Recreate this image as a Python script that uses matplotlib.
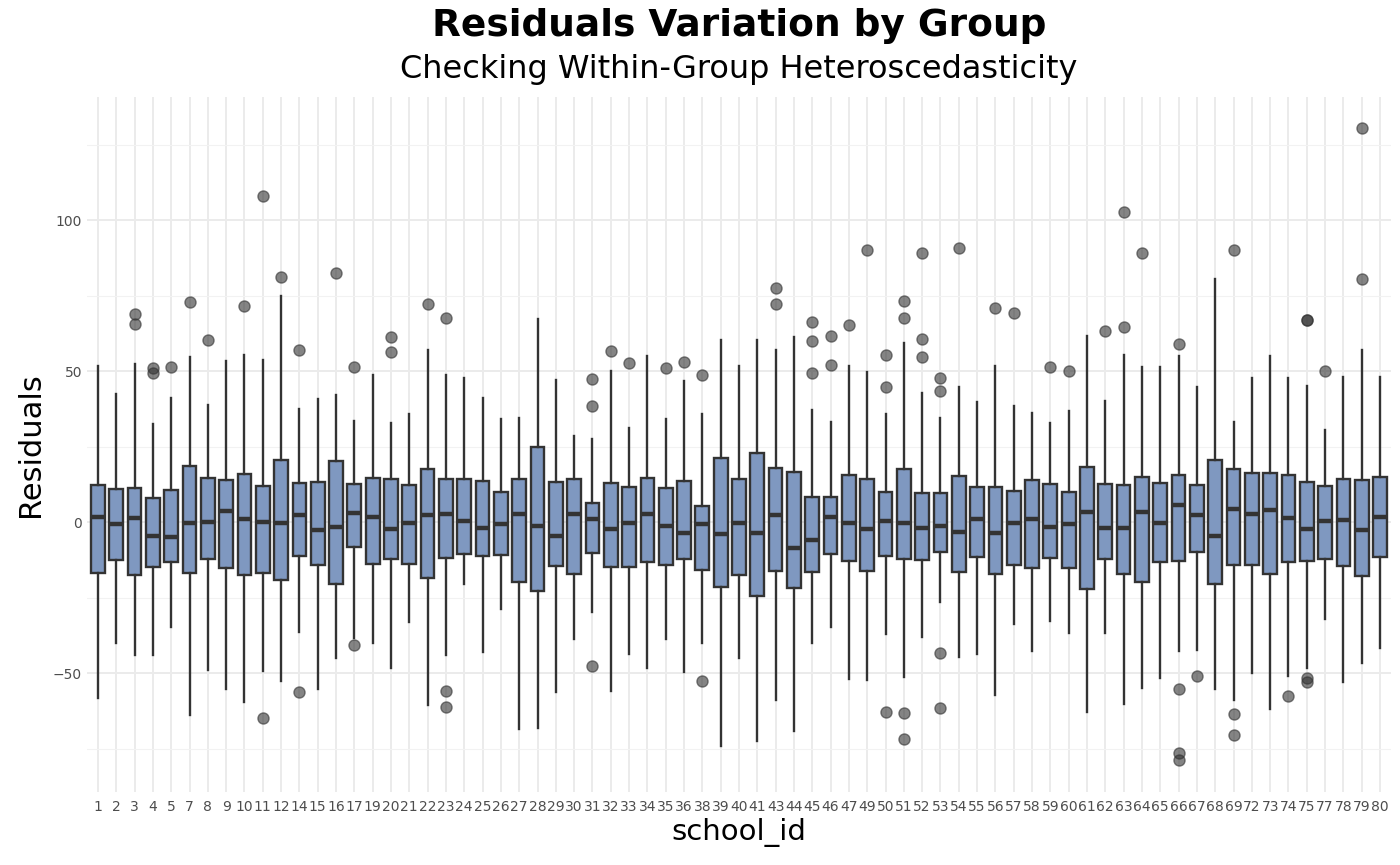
import numpy as np
import matplotlib
matplotlib.use("Agg")
import matplotlib.pyplot as plt
from matplotlib.ticker import MultipleLocator

# DATOS

school_ids = [1, 2, 3, 4, 5, 7, 8, 9, 10, 11, 12, 14, 15, 16, 17, 19, 20, 21, 22, 23,
              24, 25, 26, 27, 28, 29, 30, 31, 32, 33, 34, 35, 36, 38, 39, 40, 41, 43, 44, 45,
              46, 47, 49, 50, 51, 52, 53, 54, 55, 56, 57, 58, 59, 60, 61, 62, 63, 64, 65, 66,
              67, 68, 69, 72, 73, 74, 75, 77, 78, 79, 80]

whislo = [-58.3, -39.9, -44.0, -44.2, -34.6, -63.8, -48.9, -55.3, -59.5, -49.3, -52.8, -36.4,
          -55.3, -44.9, -38.4, -40.2, -48.4, -33.1, -60.7, -44.0, -20.5, -43.1, -28.8, -68.5,
          -68.3, -56.3, -38.9, -29.8, -55.8, -43.7, -48.3, -38.6, -49.8, -40.2, -74.1, -44.9,
          -72.6, -58.9, -69.1, -40.2, -34.8, -52.1, -52.4, -37.2, -51.2, -38.1, -26.6, -44.6,
          -43.6, -57.4, -33.9, -42.7, -32.9, -36.6, -63.0, -36.7, -60.4, -54.8, -51.5, -42.7,
          -42.5, -55.4, -59.1, -50.1, -61.9, -50.9, -48.4, -32.0, -53.1, -46.8, -41.7]

q1 = [-16.9, -12.6, -17.6, -15.0, -13.1, -16.9, -12.3, -15.3, -17.5, -17.0, -19.1, -11.2,
      -14.3, -20.5, -8.3, -14.0, -12.1, -13.8, -18.4, -11.8, -10.5, -11.2, -10.9, -19.9,
      -22.9, -14.6, -17.2, -10.3, -15.0, -14.9, -13.1, -14.1, -12.1, -15.9, -21.4, -17.5,
      -24.4, -16.1, -21.9, -16.5, -10.5, -12.9, -16.1, -11.2, -12.3, -12.6, -10.0, -16.7,
      -11.5, -17.2, -14.3, -15.2, -11.8, -15.2, -22.2, -12.3, -17.3, -19.7, -13.4, -12.8,
      -9.9, -20.5, -14.3, -14.3, -17.2, -13.1, -12.8, -12.1, -14.6, -17.8, -11.7]

medianas = [1.5, -0.5, 1.2, -4.6, -5.0, -0.2, 0.0, 3.6, 0.9, 0.0, -0.3, 2.3,
            -2.7, -1.7, 2.9, 1.8, -2.4, -0.2, 2.3, 2.6, 0.5, -2.0, -0.5, 2.7,
            -1.2, -4.6, 2.7, 0.9, -2.4, -0.2, 2.7, -1.2, -3.6, -0.6, -4.1, -0.3,
            -3.6, 2.3, -8.7, -5.9, 1.5, -0.2, -2.3, 0.3, -0.2, -2.1, -1.4, -3.2,
            0.9, -3.8, -0.3, 1.1, -1.7, -0.5, 3.2, -2.0, -2.1, 3.3, -0.3, 5.5,
            2.4, -4.7, 4.3, 2.7, 3.9, 1.2, -2.3, 0.3, 0.8, -2.7, 1.5]

q3 = [12.4, 10.8, 11.4, 8.0, 10.5, 18.5, 14.7, 13.8, 15.9, 11.8, 20.5, 12.9,
      13.2, 20.2, 12.6, 14.6, 14.1, 12.3, 17.5, 14.3, 14.1, 13.7, 9.9, 14.4,
      24.7, 13.2, 14.4, 6.4, 12.8, 11.5, 14.7, 11.4, 13.7, 5.2, 21.1, 14.1,
      22.8, 17.9, 16.4, 8.3, 8.2, 15.6, 14.4, 10.0, 17.6, 9.7, 9.7, 15.3,
      11.7, 11.5, 10.3, 14.0, 12.6, 10.0, 18.1, 12.6, 12.3, 14.9, 12.8, 15.6,
      12.4, 20.6, 17.6, 16.2, 16.2, 15.5, 13.1, 12.0, 14.3, 13.8, 15.0]

whishi = [51.6, 42.4, 52.2, 32.6, 41.0, 54.5, 38.9, 53.4, 55.4, 53.7, 75.0, 37.3,
          40.8, 42.0, 33.5, 48.7, 32.9, 35.8, 56.8, 48.7, 47.8, 41.0, 34.2, 34.3,
          67.1, 46.9, 28.4, 27.6, 49.9, 31.0, 55.0, 34.2, 46.8, 35.8, 60.3, 51.8,
          60.3, 56.9, 61.3, 37.2, 33.2, 51.8, 49.6, 35.8, 59.4, 42.8, 34.3, 44.6,
          39.8, 51.6, 38.4, 36.0, 32.9, 36.9, 61.6, 40.1, 55.3, 51.3, 51.2, 55.1,
          44.6, 80.6, 33.2, 47.8, 55.1, 47.8, 44.9, 30.5, 48.1, 56.9, 48.1]

atipicos = [[], [], [68.9, 65.6], [51.0, 49.5], [51.3], [72.9], [60.4], [], [71.7],
            [107.9, -65.0], [81.1], [57.1, -56.3],
            [], [82.3], [51.2, -40.8], [], [61.2, 56.2], [], [72.3], [67.7, -56.0, -61.3],
            [], [], [], [],
            [], [], [], [47.4, 38.3, -47.7], [56.6], [52.7], [], [50.9], [53.0],
            [48.6, -52.5], [], [],
            [], [77.6, 72.1], [], [66.2, 59.8, 49.3], [61.6, 52.1], [65.3], [90.0],
            [55.4, 44.6, -62.8], [73.2, 67.6, -63.1, -72.0], [89.1, 60.7, 54.6],
            [47.7, 43.3, -43.4, -61.5], [90.6],
            [], [71.0], [69.2], [], [51.3], [50.1], [], [63.2], [102.6, 64.5], [89.0],
            [], [59.1, -55.3, -76.5, -78.9],
            [-51.0], [], [90.2, -63.6, -70.6], [], [], [-57.5],
            [66.8, 66.8, -51.5, -53.1], [49.9], [], [130.4, 80.5], []]

# ESTADISTICAS PARA bxp

stats = []
for i in range(len(school_ids)):
    stats.append({
        "label": str(school_ids[i]),
        "whislo": whislo[i],
        "q1": q1[i],
        "med": medianas[i],
        "q3": q3[i],
        "whishi": whishi[i],
        "fliers": atipicos[i],
    })

posiciones = np.arange(1, len(school_ids) + 1)

fig = plt.figure(figsize=(14, 8.65), dpi=100)
ax = fig.add_axes([0.0621, 0.0844, 0.9315, 0.804])

borde = "#333333"
ax.bxp(
    stats,
    positions=posiciones,
    widths=0.75,
    patch_artist=True,
    showcaps=False,
    boxprops=dict(facecolor="#7F98C0", edgecolor=borde, linewidth=1.7),
    whiskerprops=dict(color=borde, linewidth=1.7),
    medianprops=dict(color=borde, linewidth=3.2, solid_capstyle="butt"),
    flierprops=dict(marker="o", markersize=8, markerfacecolor="#333333",
                    markeredgecolor="#333333", alpha=0.6),
    zorder=3,
)

ax.set_xlim(0.4, len(school_ids) + 0.6)
ax.set_ylim(-89.4, 140.9)

ax.yaxis.set_major_locator(MultipleLocator(50))
ax.yaxis.set_minor_locator(MultipleLocator(25))
ax.set_xticks(posiciones)
ax.set_xticklabels([str(s) for s in school_ids])

ax.grid(True, which="major", color="#EBEBEB", linewidth=1.4, zorder=0)
ax.grid(True, which="minor", axis="y", color="#F2F2F2", linewidth=0.8, zorder=0)
ax.set_axisbelow(True)
for lado in ax.spines.values():
    lado.set_visible(False)
ax.tick_params(axis="both", which="both", length=0, labelsize=10, colors="#4D4D4D")
ax.tick_params(axis="x", pad=6)

ax.set_xlabel("school_id", fontsize=21, labelpad=3)
ax.set_ylabel("Residuals", fontsize=22, labelpad=6)

fig.text(0.528, 0.970, "Residuals Variation by Group", ha="center", va="center",
         fontsize=27, fontweight="bold")
fig.text(0.528, 0.920, "Checking Within-Group Heteroscedasticity", ha="center",
         va="center", fontsize=23)

plt.savefig("out.png", dpi=100)
